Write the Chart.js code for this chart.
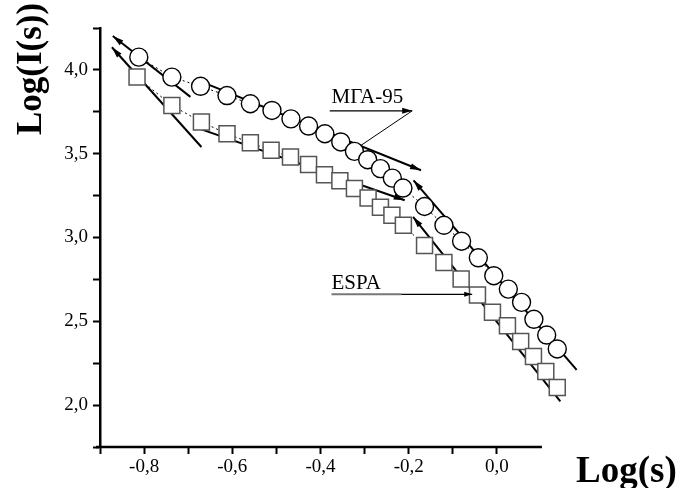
<!DOCTYPE html>
<html>
<head>
<meta charset="utf-8">
<script src="https://cdn.jsdelivr.net/npm/chart.js@4.4.1/dist/chart.umd.min.js"></script>
<style>
  html, body { margin: 0; padding: 0; background: #fff; }
</style>
</head>
<body>
<canvas id="myChart" width="685" height="488"></canvas>
<script>
// series
const mgaX = [-0.812, -0.737, -0.672, -0.612, -0.559, -0.510, -0.467, -0.427, -0.390, -0.354, -0.323, -0.293, -0.264, -0.237, -0.213,
              -0.164, -0.120, -0.080, -0.042, -0.007, 0.026, 0.056, 0.084, 0.113, 0.137];
const mgaY = [4.076, 3.957, 3.902, 3.847, 3.798, 3.758, 3.708, 3.665, 3.619, 3.570, 3.514, 3.464, 3.411, 3.354, 3.295,
              3.185, 3.073, 2.978, 2.879, 2.772, 2.692, 2.613, 2.512, 2.418, 2.335];
const espaX = [-0.816, -0.737, -0.670, -0.612, -0.559, -0.512, -0.468, -0.427, -0.391, -0.356, -0.323, -0.292, -0.264, -0.238, -0.212,
               -0.164, -0.120, -0.081, -0.044, -0.010, 0.024, 0.054, 0.083, 0.111, 0.137];
const espaY = [3.957, 3.788, 3.689, 3.619, 3.565, 3.520, 3.480, 3.435, 3.375, 3.339, 3.292, 3.236, 3.180, 3.133, 3.073,
               2.952, 2.851, 2.752, 2.657, 2.554, 2.474, 2.379, 2.290, 2.201, 2.105];

// fitted straight lines: tail -> head (arrow at head)
const fitTailX = [-0.695, -0.670, -0.668, -0.670, 0.181, 0.144];
const fitTailY = [3.839, 3.540, 3.927, 3.645, 2.210, 2.022];
const fitHeadX = [-0.871, -0.873, -0.172, -0.209, -0.189, -0.190];
const fitHeadY = [4.202, 4.135, 3.401, 3.222, 3.341, 3.123];

// series labels and their pointers
const labelText = ['МГА-95', 'ESPA'];
const labelX = [-0.375, -0.375];
const labelY = [3.800, 2.690];
const pointerTailX = [-0.379, -0.217];
const pointerHeadX = [-0.192, -0.056];
const pointerY = [3.756, 2.661];
const leaderEndX = -0.309, leaderEndY = 3.548;

const xTicks = [-0.8, -0.6, -0.4, -0.2, 0.0];
const yTicks = [2.0, 2.5, 3.0, 3.5, 4.0];
const xAxisMin = -0.9, xAxisEnd = 0.1;   // drawn axis line; last points sit past its end

const pts = (xs, ys) => xs.map((x, i) => ({ x: x, y: ys[i] }));
const fmt = v => v.toFixed(1).replace('.', ',');

const datasets = [
  {
    label: 'МГА-95', data: pts(mgaX, mgaY), showLine: true, clip: false,
    borderColor: '#000', borderWidth: 1, borderDash: [2, 3],
    pointStyle: 'circle', pointRadius: 9, pointBorderWidth: 1.4,
    pointBorderColor: '#000', pointBackgroundColor: '#fff'
  },
  {
    label: 'ESPA', data: pts(espaX, espaY), showLine: true, clip: false,
    borderColor: '#000', borderWidth: 1, borderDash: [2, 3],
    pointStyle: 'rect', pointRadius: 11.3, pointBorderWidth: 1.5,
    pointBorderColor: '#555', pointBackgroundColor: '#fff'
  },
  { data: pts(mgaX, mgaY), showLine: false, clip: false, pointRadius: 0.8, pointBorderWidth: 0, pointBackgroundColor: '#000' },
  { data: pts(espaX, espaY), showLine: false, clip: false, pointRadius: 0.8, pointBorderWidth: 0, pointBackgroundColor: '#000' }
];
fitTailX.forEach((x, i) => {
  datasets.push({
    data: [{ x: x, y: fitTailY[i] }, { x: fitHeadX[i], y: fitHeadY[i] }],
    showLine: true, clip: false, borderColor: '#000', borderWidth: 2, pointRadius: 0
  });
});

function arrowHead(ctx, x1, y1, x2, y2, len, half) {
  const a = Math.atan2(y2 - y1, x2 - x1);
  ctx.beginPath();
  ctx.moveTo(x2, y2);
  ctx.lineTo(x2 - len * Math.cos(a) + half * Math.sin(a), y2 - len * Math.sin(a) - half * Math.cos(a));
  ctx.lineTo(x2 - len * Math.cos(a) - half * Math.sin(a), y2 - len * Math.sin(a) + half * Math.cos(a));
  ctx.closePath();
  ctx.fill();
}

const extras = {
  id: 'extras',
  beforeDatasetsDraw(chart) {
    // x axis line only up to 0.1
    const ctx = chart.ctx, xs = chart.scales.x, ys = chart.scales.y;
    const y0 = ys.getPixelForValue(ys.min);
    ctx.save();
    ctx.strokeStyle = '#000';
    ctx.lineWidth = 2.5;
    ctx.beginPath();
    ctx.moveTo(xs.getPixelForValue(xAxisMin) - 4, y0);
    ctx.lineTo(xs.getPixelForValue(xAxisEnd) + 1, y0);
    ctx.stroke();
    ctx.restore();
  },
  afterDatasetsDraw(chart) {
    const ctx = chart.ctx, xs = chart.scales.x, ys = chart.scales.y;
    const px = v => xs.getPixelForValue(v), py = v => ys.getPixelForValue(v);
    ctx.save();
    ctx.fillStyle = '#000';
    ctx.strokeStyle = '#000';
    // arrow heads of fitted lines
    fitTailX.forEach((x, i) => {
      arrowHead(ctx, px(x), py(fitTailY[i]), px(fitHeadX[i]), py(fitHeadY[i]), 11, 3);
    });
    // label text
    ctx.font = '21px "Liberation Serif"';
    ctx.textBaseline = 'alphabetic';
    labelText.forEach((t, i) => ctx.fillText(t, px(labelX[i]), py(labelY[i])));
    // МГА-95 pointer
    ctx.lineWidth = 1.2;
    ctx.beginPath();
    ctx.moveTo(px(pointerTailX[0]), py(pointerY[0]));
    ctx.lineTo(px(pointerHeadX[0]), py(pointerY[0]));
    ctx.stroke();
    arrowHead(ctx, px(pointerTailX[0]), py(pointerY[0]), px(pointerHeadX[0]), py(pointerY[0]), 10, 3);
    ctx.lineWidth = 1;
    ctx.beginPath();
    ctx.moveTo(px(pointerHeadX[0]), py(pointerY[0]));
    ctx.lineTo(px(leaderEndX), py(leaderEndY));
    ctx.stroke();
    // ESPA underline + pointer
    ctx.strokeStyle = '#777';
    ctx.lineWidth = 2;
    ctx.beginPath();
    ctx.moveTo(px(labelX[1]), py(pointerY[1]));
    ctx.lineTo(px(pointerTailX[1]), py(pointerY[1]));
    ctx.stroke();
    ctx.strokeStyle = '#000';
    ctx.lineWidth = 1.2;
    ctx.beginPath();
    ctx.moveTo(px(pointerTailX[1]), py(pointerY[1]));
    ctx.lineTo(px(pointerHeadX[1]), py(pointerY[1]));
    ctx.stroke();
    arrowHead(ctx, px(pointerTailX[1]), py(pointerY[1]), px(pointerHeadX[1]), py(pointerY[1]), 8, 2.5);
    // axis titles
    ctx.font = 'bold 37px "Liberation Serif"';
    ctx.textAlign = 'left';
    ctx.fillText('Log(s)', 576, 482);
    ctx.font = 'bold 35px "Liberation Serif"';
    ctx.translate(41, 69);
    ctx.rotate(-Math.PI / 2);
    ctx.textAlign = 'center';
    ctx.fillText('Log(I(s))', 0, 0);
    ctx.restore();
  }
};

const tickShown = c => (c.tick && c.tick.value <= xAxisEnd + 1e-6) ? '#000' : 'rgba(0,0,0,0)';

var ctx = document.getElementById('myChart');
var myChart = new Chart(ctx, {
  type: 'scatter',
  data: { datasets: datasets },
  options: {
    responsive: false,
    animation: false,
    layout: { padding: { top: 28, right: 122, bottom: 0, left: 0 } },
    plugins: { legend: { display: false }, tooltip: { enabled: false } },
    scales: {
      x: {
        type: 'linear', min: xAxisMin, max: 0.15,
        afterFit: s => { s.height = 41; },
        border: { display: false },
        grid: { drawOnChartArea: false, drawTicks: true, tickLength: 7, tickColor: tickShown, tickWidth: 2 },
        ticks: {
          stepSize: 0.1, autoSkip: false, maxRotation: 0, padding: 2, color: '#000',
          font: { family: 'Liberation Serif', size: 19 },
          callback: v => xTicks.some(t => Math.abs(t - v) < 1e-6) ? fmt(v) : ''
        }
      },
      y: {
        type: 'linear', min: 1.75, max: 4.25,
        afterFit: s => { s.width = 100; },
        border: { display: true, color: '#000', width: 2.5 },
        grid: { drawOnChartArea: false, drawTicks: true, tickLength: 7, tickColor: '#000', tickWidth: 2 },
        ticks: {
          stepSize: 0.25, autoSkip: false, padding: 5, color: '#000',
          font: { family: 'Liberation Serif', size: 19 },
          callback: v => yTicks.some(t => Math.abs(t - v) < 1e-6) ? fmt(v) : ''
        }
      }
    }
  },
  plugins: [extras]
});
</script>
</body>
</html>
